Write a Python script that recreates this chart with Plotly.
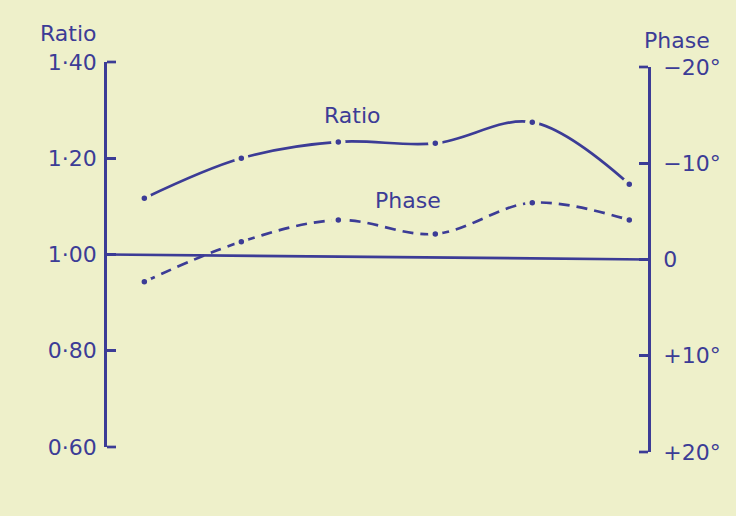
import plotly.graph_objects as go

# ---- data ----
points = [1, 2, 3, 4, 5, 6]
ratio = [1.117, 1.200, 1.234, 1.231, 1.275, 1.146]
phase = [2.31, -1.85, -4.10, -2.65, -5.90, -4.10]

ratio_ticks = [0.60, 0.80, 1.00, 1.20, 1.40]
ratio_ticklabels = ["0·60", "0·80", "1·00", "1·20", "1·40"]
phase_ticks = [-20, -10, 0, 10, 20]
phase_ticklabels = ["−20°", "−10°", "0", "+10°", "+20°"]

INK = "#3c3c96"
BG = "#eef0ca"
FONT = "DejaVu Sans"
FS = 22
LW = 2.7

fig = go.Figure()

fig.add_trace(go.Scatter(
    x=points, y=ratio, mode="lines+markers", xaxis="x", yaxis="y",
    line=dict(color=INK, width=LW, shape="spline", smoothing=1.0),
    marker=dict(size=10, color=INK, line=dict(color=BG, width=4.5)),
    showlegend=False, hoverinfo="skip"))

fig.add_trace(go.Scatter(
    x=points, y=phase, mode="lines+markers", xaxis="x", yaxis="y2",
    line=dict(color=INK, width=LW, shape="spline", smoothing=1.0, dash="11px,7px"),
    marker=dict(size=10, color=INK, line=dict(color=BG, width=4.5)),
    showlegend=False, hoverinfo="skip"))

W = 541.0  # plot area width (x 107..648)
H = 390.0  # plot area height (y 62..452)
TL = 9.0   # tick length px
fig.update_layout(
    width=736, height=516,
    margin=dict(l=107, r=88, t=62, b=64),
    paper_bgcolor=BG, plot_bgcolor="rgba(0,0,0,0)",
    font=dict(family=FONT, color=INK, size=FS),
    xaxis=dict(range=[0.615, 6.193], visible=False, showgrid=False, zeroline=False),
    yaxis=dict(domain=[5 / H, 1.0], range=[0.60, 1.40],
               tickvals=ratio_ticks, ticktext=ratio_ticklabels,
               showgrid=False, zeroline=False, showline=True, linecolor=INK, linewidth=LW,
               ticks="inside", ticklen=TL, tickwidth=LW, tickcolor=INK,
               ticklabelstandoff=3),
    yaxis2=dict(domain=[0.0, 1.0 - 5 / H], range=[20, -20],
                tickvals=phase_ticks, ticktext=phase_ticklabels,
                side="right", anchor="x",
                showgrid=False, zeroline=False, showline=True, linecolor=INK, linewidth=LW,
                ticks="inside", ticklen=TL, tickwidth=LW, tickcolor=INK,
                ticklabelstandoff=8),
)

# end ticks (plotly drops inside ticks at the very ends of an axis)
tick_style = dict(color=INK, width=LW)
for yy in (1.0, 5 / H):
    fig.add_shape(type="line", xref="paper", yref="paper", x0=0, x1=TL / W, y0=yy, y1=yy,
                  line=tick_style)
for yy in (1.0 - 5 / H, 0.0):
    fig.add_shape(type="line", xref="paper", yref="paper", x0=1 - TL / W, x1=1, y0=yy, y1=yy,
                  line=tick_style)

# reference line: ratio 1.00 on the left meeting phase 0 on the right
fig.add_shape(type="line", xref="paper", yref="paper", x0=0, x1=1,
              y0=(452 - 254.5) / H, y1=(452 - 259.5) / H,
              line=dict(color=INK, width=LW))

# axis titles (pixel targets converted to paper coords)
fig.add_annotation(text="Ratio", xref="paper", yref="paper",
                   x=(68 - 107) / W, y=(452 - 33) / H, xanchor="center", yanchor="middle",
                   showarrow=False, font=dict(size=FS, color=INK, family=FONT))
fig.add_annotation(text="Phase", xref="paper", yref="paper",
                   x=(677 - 107) / W, y=(452 - 41) / H, xanchor="center", yanchor="middle",
                   showarrow=False, font=dict(size=FS, color=INK, family=FONT))
# curve labels
fig.add_annotation(text="Ratio", x=3.14, y=1.288, xref="x", yref="y",
                   xanchor="center", yanchor="middle",
                   showarrow=False, font=dict(size=FS, color=INK, family=FONT))
fig.add_annotation(text="Phase", x=3.72, y=1.113, xref="x", yref="y",
                   xanchor="center", yanchor="middle",
                   showarrow=False, font=dict(size=FS, color=INK, family=FONT))

fig.write_html("out.html", config={"displayModeBar": False},
               post_script="document.body.style.margin='0';document.body.style.background='%s';" % BG)
